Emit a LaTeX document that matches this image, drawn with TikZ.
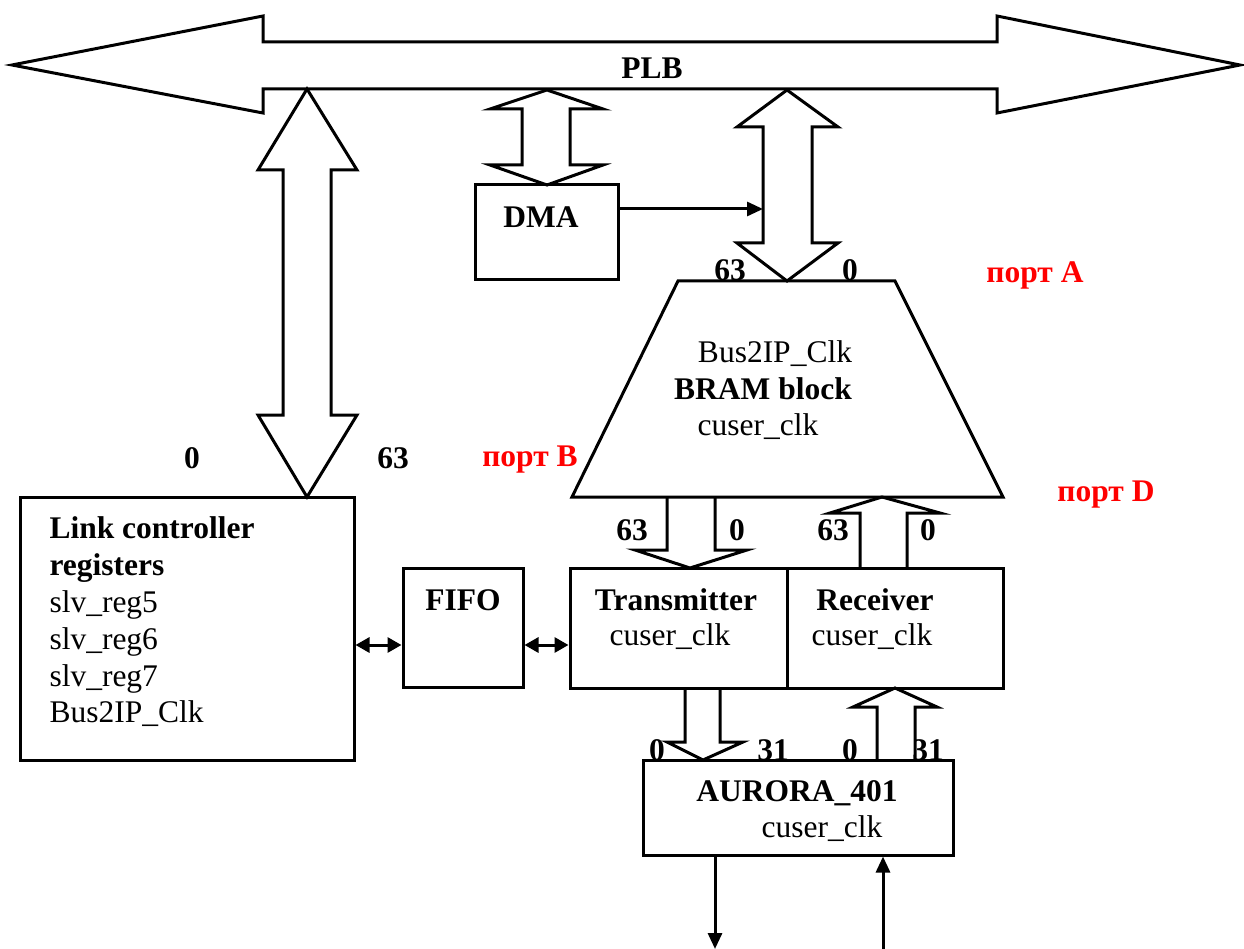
\documentclass[tikz,border=0pt]{standalone}
\usepackage{fontspec}
\setmainfont{Liberation Serif}
\usepackage{xcolor}
\usetikzlibrary{arrows.meta}

\begin{document}
\begin{tikzpicture}[x=1pt, y=-1pt, line width=3pt,
    txt/.style={inner sep=0pt, font=\fontsize{31.5}{36.8}\selectfont},
    bold/.style={txt, font=\fontsize{31.5}{36.8}\selectfont\bfseries},
    port/.style={bold, text=red},
    block/.style={draw, inner sep=0pt, line width=3pt},
    fat/.style={draw, line width=3pt, line join=miter},
    sig/.style={line width=3pt, -{Triangle[length=16pt, width=14pt]}},
    bisig/.style={line width=3pt, {Triangle[length=14pt, width=15pt]}-{Triangle[length=14pt, width=15pt]}}]
    \useasboundingbox (0,0) rectangle (1244,949);

    % PLB bus
    \draw[fat] (12,65) -- (263,16) -- (263,42) -- (997,42) -- (997,16) -- (1240,65)
        -- (997,113) -- (997,89) -- (263,89) -- (263,113) -- cycle;
    \node[bold] (plb) at (652,68) {PLB};

    % blocks
    \node[block, minimum width=143pt, minimum height=95pt] (dma) at (546.5,232.5) {};
    \node[block, minimum width=334pt, minimum height=263pt] (lcr) at (187,628.5) {};
    \node[block, minimum width=120pt, minimum height=119pt] (fifo) at (463,627.5) {};
    \node[block, minimum width=217pt, minimum height=120pt] (tx) at (678.5,628) {};
    \node[block, minimum width=216pt, minimum height=120pt] (rx) at (895,628) {};
    \node[block, minimum width=310pt, minimum height=95pt] (aurora) at (798,807.5) {};
    \draw[line join=miter] (572,497) -- (678,281) -- (895,281) -- (1003,497) -- cycle;
    \coordinate (bram) at (787,390);

    % wide buses
    \draw[fat] (307,89) -- (357,170) -- (331,170) -- (331,415) -- (357,415) -- (307,497)
        -- (258,415) -- (283,415) -- (283,170) -- (258,170) -- cycle;
    \draw[fat] (547,90) -- (603,109) -- (570,109) -- (570,165) -- (603,165) -- (547,185)
        -- (490,165) -- (522,165) -- (522,109) -- (490,109) -- cycle;
    \draw[fat] (787,90) -- (838,127) -- (812,127) -- (812,243) -- (838,243) -- (787,281)
        -- (737,243) -- (763,243) -- (763,127) -- (737,127) -- cycle;
    \draw[fat] (667,497) -- (667,550) -- (635,550) -- (690,568) -- (747,550) -- (715,550) -- (715,497);
    \draw[fat] (860,568) -- (860,513) -- (830,513) -- (882,497) -- (940,513) -- (907,513) -- (907,568);
    \draw[fat] (685,688) -- (685,742) -- (667,742) -- (703,760) -- (743,742) -- (720,742) -- (720,688);
    \draw[fat] (877,760) -- (877,707) -- (853,707) -- (895,688) -- (937,707) -- (915,707) -- (915,760);

    % thin signals
    \coordinate (dmain) at (763,209);
    \coordinate (serout) at (715,949);
    \coordinate (serin) at (883,949);
    \draw[sig] (dma.east |- dmain) -- (dmain);
    \draw[bisig] (lcr.east |- 0,645) -- (fifo.west |- 0,645);
    \draw[bisig] (fifo.east |- 0,645) -- (tx.west |- 0,645);
    \draw[sig] (aurora.south -| serout) -- (serout);
    \draw[sig] (serin) -- (aurora.south -| serin);

    % texts
    \node[bold] at (541,217) {DMA};
    \node[bold] at (463,600) {FIFO};
    \node[bold] at (676,600) {Transmitter};
    \node[txt] at (670,637) {cuser\_clk};
    \node[bold] at (875,600) {Receiver};
    \node[txt] at (872,637) {cuser\_clk};
    \node[bold] at (797,793) {AURORA\_401};
    \node[txt] at (822,829) {cuser\_clk};
    \node[txt] at (775,354) {Bus2IP\_Clk};
    \node[bold] at (763,389) {BRAM block};
    \node[txt] at (758,427) {cuser\_clk};
    \node[txt, align=left, anchor=west] at (48,622) {\textbf{Link controller}\\\textbf{registers}\\slv\_reg5\\slv\_reg6\\slv\_reg7\\Bus2IP\_Clk};

    % bit numbers
    \node[bold] at (730,270) {63};
    \node[bold] at (850,270) {0};
    \node[bold] at (192,458) {0};
    \node[bold] at (393,458) {63};
    \node[bold] at (632,530) {63};
    \node[bold] at (737,530) {0};
    \node[bold] at (833,530) {63};
    \node[bold] at (928,530) {0};
    \node[bold] at (657,750) {0};
    \node[bold] at (773,750) {31};
    \node[bold] at (850,750) {0};
    \node[bold] at (928,750) {31};

    % ports
    \node[port] at (1035,275) {порт A};
    \node[port] at (530,460) {порт B};
    \node[port] at (1106,495) {порт D};
\end{tikzpicture}
\end{document}
